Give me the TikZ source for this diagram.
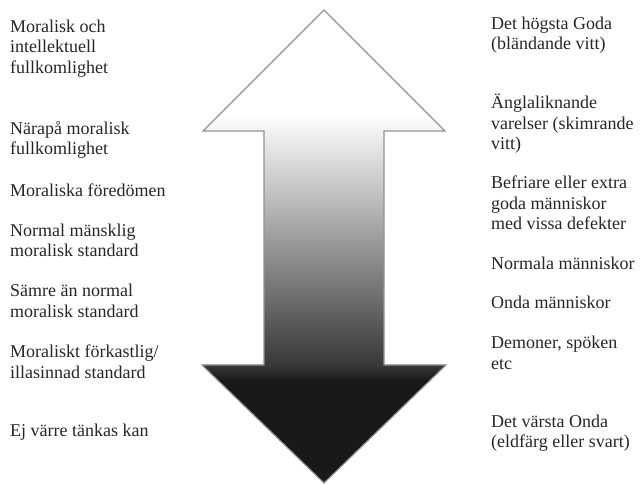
\documentclass[tikz,border=0pt]{standalone}
\usepackage{fontspec}
\setmainfont{Liberation Serif}

\begin{document}
\begin{tikzpicture}[x=1pt, y=1pt,
    level/.style={anchor=west, align=left, inner sep=0pt, text=black!85,
      font=\fontsize{18}{20.5}\selectfont}]
  \useasboundingbox (0,0) rectangle (640,484);

  % the double arrow, light at the top and dark at the bottom
  \draw[gray!85, line width=1.2pt, line join=miter,
    path picture={
      \fill[white] (190,369) rectangle (460,484);
      \shade[top color=white, bottom color=black!78] (190,119) rectangle (460,369);
      \shade[top color=black!78, bottom color=black!90] (190,104) rectangle (460,119);
      \fill[black!90] (190,0) rectangle (460,104);
    }]
    (324,474) -- (445,353) -- (384,353) -- (384,119) -- (446,119)
    -- (324,1) -- (202,119) -- (264,119) -- (264,353) -- (203,353) -- cycle;

  % left column
  \node[level] (moral) at (10,435.5) {Moralisk och\\intellektuell\\fullkomlighet};
  \node[level] (narapa) at (10,344) {Närapå moralisk\\fullkomlighet};
  \node[level] (foredome) at (10,294) {Moraliska föredömen};
  \node[level] (normal) at (10,243.5) {Normal mänsklig\\moralisk standard};
  \node[level] (samre) at (10,183) {Sämre än normal\\moralisk standard};
  \node[level] (forkast) at (10,122) {Moraliskt förkastlig/\\illasinnad standard};
  \node[level] (ejvarre) at (10,52) {Ej värre tänkas kan};

  % right column
  \node[level] (hogsta) at (491,449) {Det högsta Goda\\(bländande vitt)};
  \node[level] (angla) at (491,360) {Änglaliknande\\varelser (skimrande\\vitt)};
  \node[level] (befriare) at (491,281) {Befriare eller extra\\goda människor\\med vissa defekter};
  \node[level] (normala) at (491,221) {Normala människor};
  \node[level] (onda) at (491,182) {Onda människor};
  \node[level] (demoner) at (491,131) {Demoner, spöken\\etc};
  \node[level] (varsta) at (491,51) {Det värsta Onda\\(eldfärg eller svart)};
\end{tikzpicture}
\end{document}
